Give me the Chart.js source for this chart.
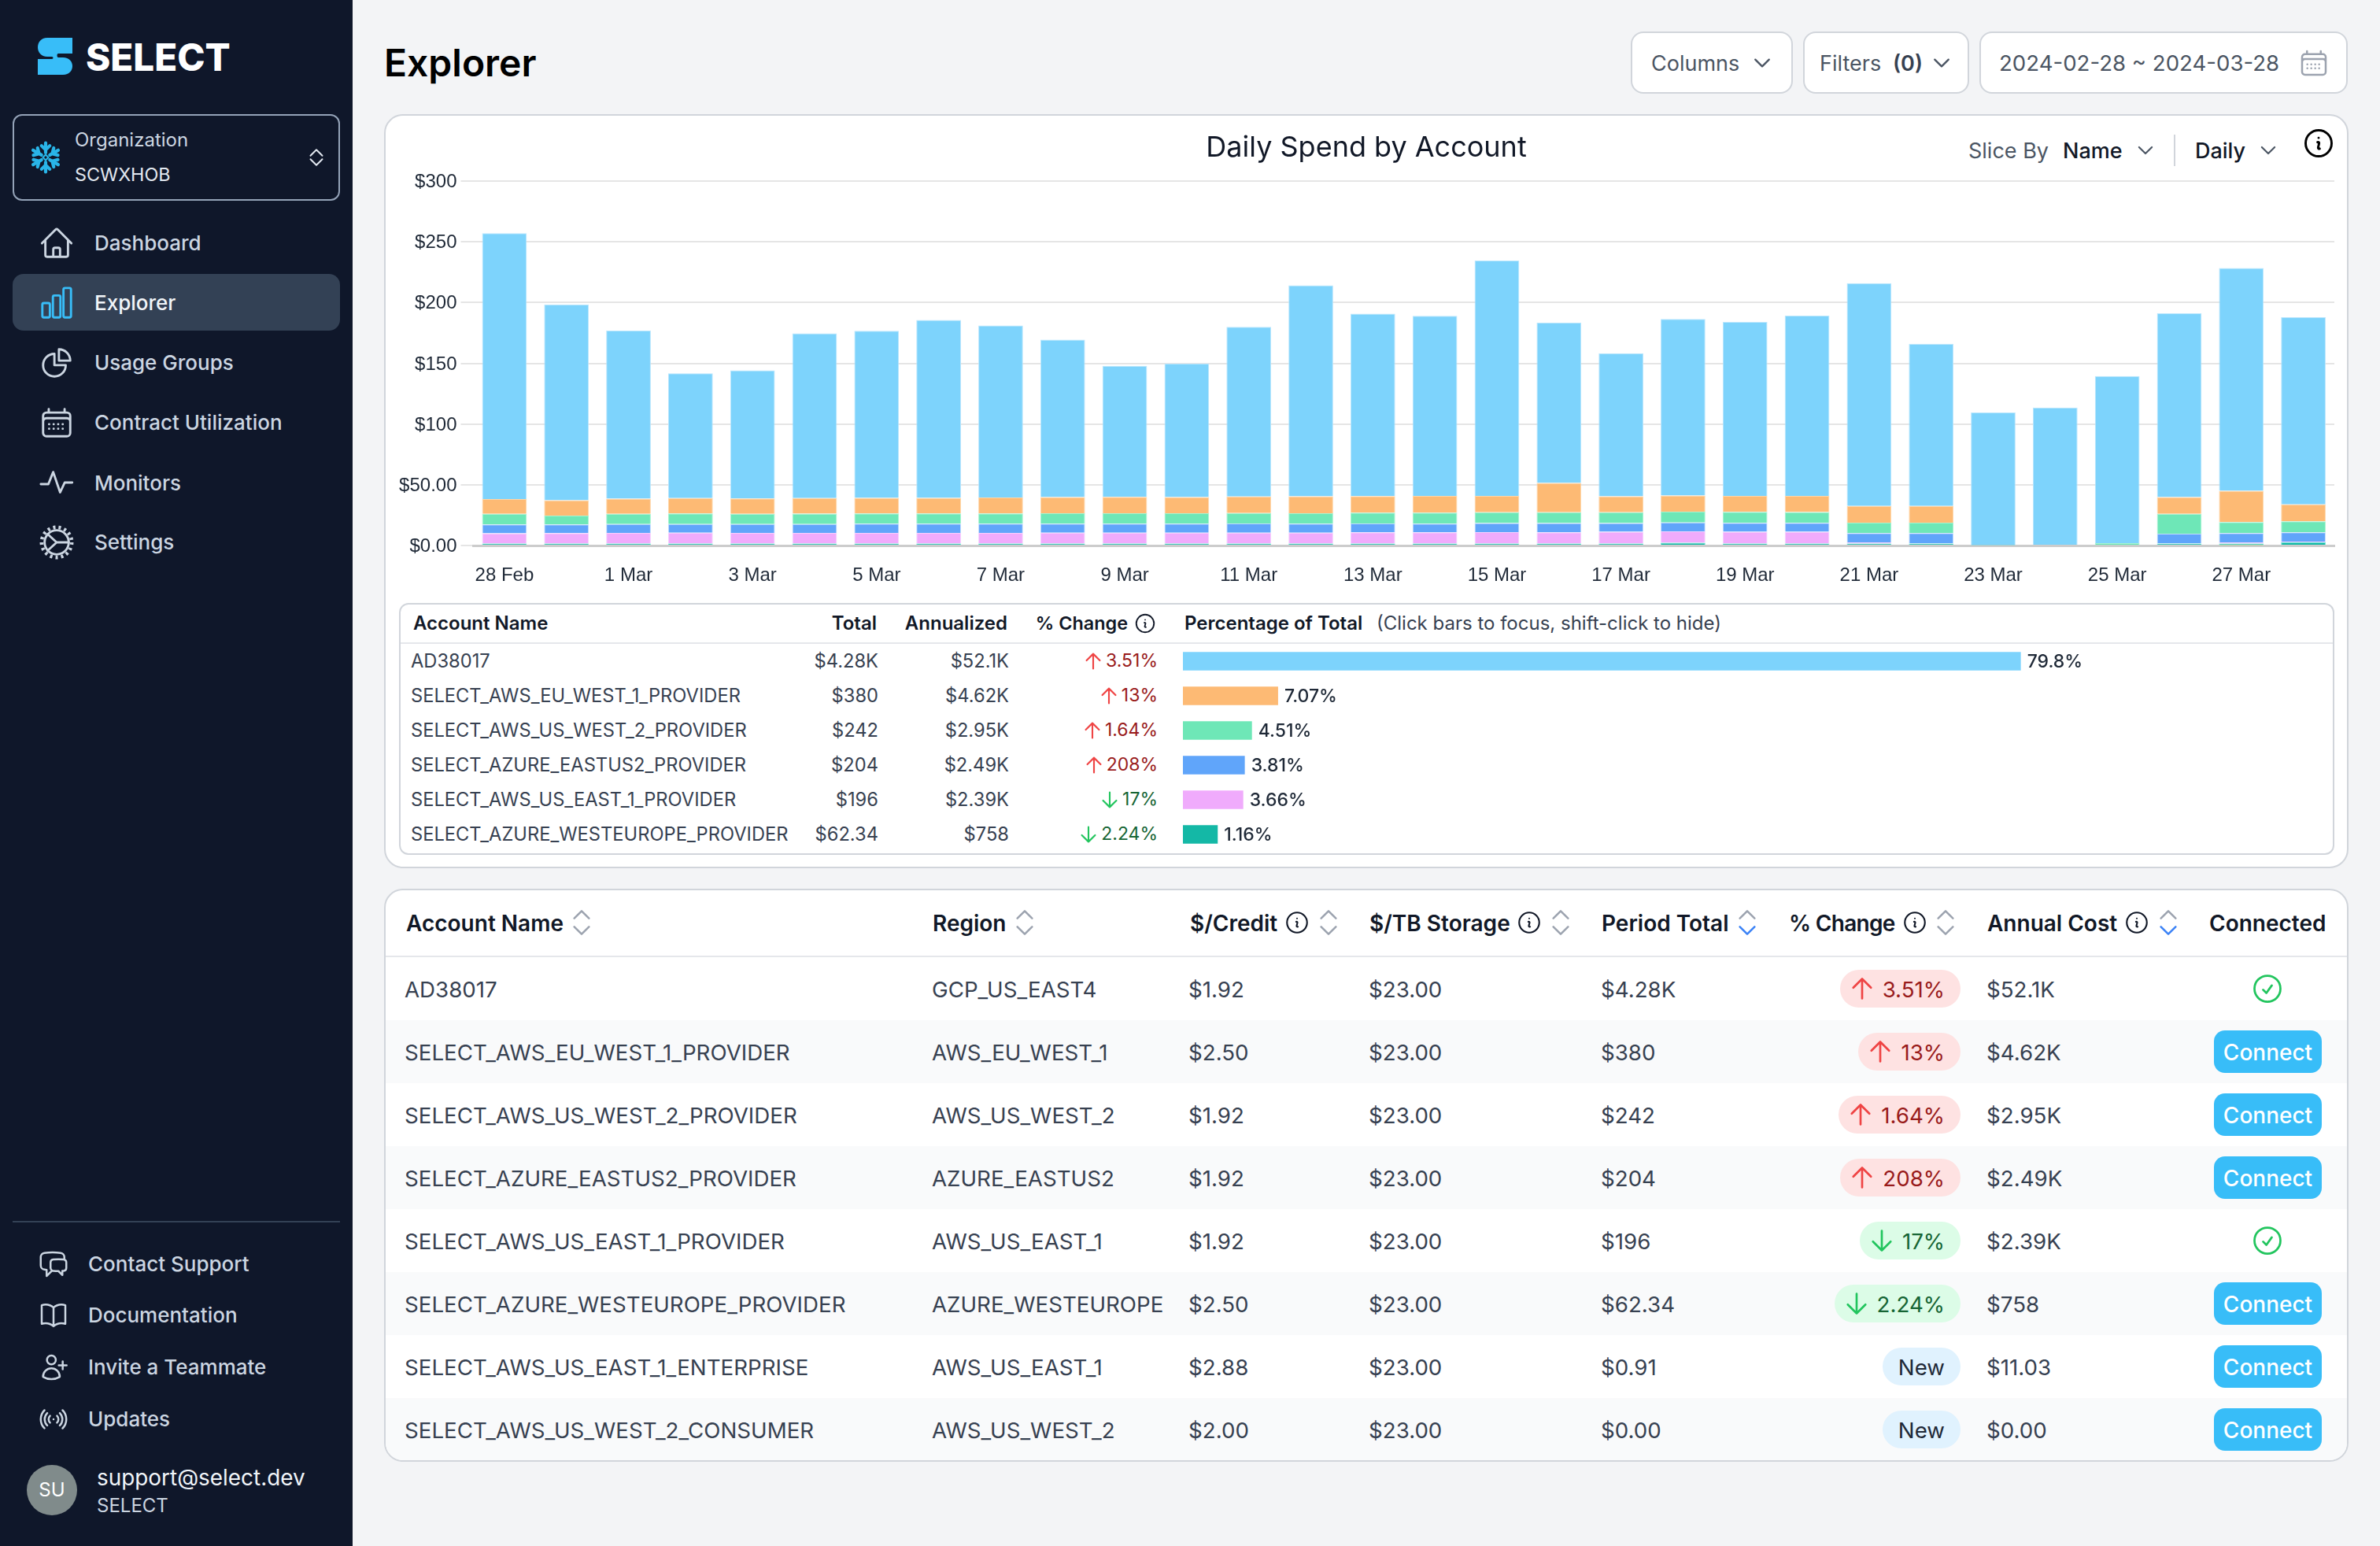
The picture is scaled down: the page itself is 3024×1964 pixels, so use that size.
<!DOCTYPE html>
<html><head><meta charset="utf-8"><title>Explorer</title>
<script src="https://cdn.jsdelivr.net/npm/chart.js@4"></script>
<style>
html,body{margin:0;padding:0;background:#F3F4F6;width:3024px;height:1964px;overflow:hidden;font-family:Inter,sans-serif}
#app{position:relative;width:3024px;height:1964px;overflow:hidden}
.t{position:absolute;white-space:nowrap;line-height:1.2;transform:translateY(-50%)}
.box{position:absolute;box-sizing:border-box}
svg.i{position:absolute;overflow:visible;fill:none;stroke-linecap:round;stroke-linejoin:round}
canvas{position:absolute}
</style></head><body><div id="app"></div>
<canvas id="spend" width="2490" height="610" style="left:490px;top:150px;width:2490px;height:610px;z-index:3"></canvas>
<canvas id="share" width="1463" height="264" style="left:1503px;top:818px;width:1463px;height:264px;z-index:3"></canvas>
<script>
const categories=['28 Feb','29 Feb','1 Mar','2 Mar','3 Mar','4 Mar','5 Mar','6 Mar','7 Mar','8 Mar','9 Mar','10 Mar','11 Mar','12 Mar','13 Mar','14 Mar','15 Mar','16 Mar','17 Mar','18 Mar','19 Mar','20 Mar','21 Mar','22 Mar','23 Mar','24 Mar','25 Mar','26 Mar','27 Mar','28 Mar'];
const yTickLabels=['$0.00','$50.00','$100','$150','$200','$250','$300'];
const otherSpend=[0,0,0,0,0,0,0,0,0,0,0,0,0,0,0,0,0,0,0,0,0,0,0,0,0,0,0,0,0.4,0];
const westeuropeSpend=[1.7,1.7,1.7,1.7,1.7,1.7,1.6,1.6,1.6,1.6,1.6,1.6,1.6,1.6,1.6,1.6,1.7,1.6,1.6,2.2,1.6,1.7,1.7,1.7,0.4,0.6,0.5,1.7,1.3,2.6];
const useast1Spend=[8.3,8.5,8.7,8.9,8.7,8.7,8.8,8.8,8.8,9,9,9,9,9,9.2,9.2,9.3,9.2,9.7,9.5,9.7,9.6,0.9,0.1,0,0,0,0.1,0.9,0.6];
const eastus2Spend=[7.3,7.1,7.3,7.1,7.3,7.3,7.6,7.6,7.6,7.4,7.4,7.4,7.6,7.4,7.4,7.2,7.4,7.6,7.1,7.3,7.3,7.3,7.6,8.4,0,0,0,7.9,7.6,7.6];
const uswest2Spend=[8.7,7.4,8.3,8.7,8.3,8.5,8.4,8.4,8.4,8.6,8.6,8.6,8.6,8.6,8.8,9,8.9,8.9,8.9,8.9,9.1,8.9,8.6,8.6,0,0,1.5,16.3,9.1,9.1];
const euwest1Spend=[12.3,12.5,12.5,12.6,12.7,12.8,12.8,12.8,13.2,13.2,13.4,13.2,13.5,13.9,13.7,13.9,13.6,24.2,13.2,13.2,13.2,13.4,13.7,13.7,0,0,0,13.8,25.7,13.9];
const ad38017Spend=[218.8,161.3,138.4,102.7,105.5,135.7,137.5,146.4,141.5,129.7,107.9,109.8,139.6,173.6,150.1,148.2,193.6,132.1,117.8,145.3,143.1,148.3,183.5,133.5,109.1,113,137.4,151.3,183.4,154.1];
const summaryNames=['AD38017','SELECT_AWS_EU_WEST_1_PROVIDER','SELECT_AWS_US_WEST_2_PROVIDER','SELECT_AZURE_EASTUS2_PROVIDER','SELECT_AWS_US_EAST_1_PROVIDER','SELECT_AZURE_WESTEUROPE_PROVIDER'];
const summaryTotals=['$4.28K','$380','$242','$204','$196','$62.34'];
const summaryAnnual=['$52.1K','$4.62K','$2.95K','$2.49K','$2.39K','$758'];
const summaryChange=['3.51%','13%','1.64%','208%','17%','2.24%'];
const summaryDir=['up','up','up','up','down','down'];
const summaryShare=[79.8,7.07,4.51,3.81,3.66,1.16];
const summaryShareLabels=['79.8%','7.07%','4.51%','3.81%','3.66%','1.16%'];
const accounts=['AD38017','SELECT_AWS_EU_WEST_1_PROVIDER','SELECT_AWS_US_WEST_2_PROVIDER','SELECT_AZURE_EASTUS2_PROVIDER','SELECT_AWS_US_EAST_1_PROVIDER','SELECT_AZURE_WESTEUROPE_PROVIDER','SELECT_AWS_US_EAST_1_ENTERPRISE','SELECT_AWS_US_WEST_2_CONSUMER'];
const regions=['GCP_US_EAST4','AWS_EU_WEST_1','AWS_US_WEST_2','AZURE_EASTUS2','AWS_US_EAST_1','AZURE_WESTEUROPE','AWS_US_EAST_1','AWS_US_WEST_2'];
const creditRates=['$1.92','$2.50','$1.92','$1.92','$1.92','$2.50','$2.88','$2.00'];
const storageRates=['$23.00','$23.00','$23.00','$23.00','$23.00','$23.00','$23.00','$23.00'];
const periodTotals=['$4.28K','$380','$242','$204','$196','$62.34','$0.91','$0.00'];
const changes=['3.51%','13%','1.64%','208%','17%','2.24%','New','New'];
const changeDirs=['up','up','up','up','down','down','new','new'];
const annualCosts=['$52.1K','$4.62K','$2.95K','$2.49K','$2.39K','$758','$11.03','$0.00'];
const connected=[true,false,false,false,true,false,false,false];

const app=document.getElementById('app');
function T(s,x,y,o={}){const d=document.createElement('div');d.className='t';d.textContent=s;
 d.style.cssText+=`top:${y}px;font-size:${o.s||28}px;font-weight:${o.w||400};color:${o.c||'#374151'};z-index:${o.z||2};`+(o.ls?`letter-spacing:${o.ls}px;`:'')+(o.r?`right:${3024-x}px;`:o.ctr?`left:${x}px;transform:translate(-50%,-50%);`:`left:${x}px;`);
 app.appendChild(d);return d}
function B(x,y,w,h,css){const d=document.createElement('div');d.className='box';d.style.cssText=`left:${x}px;top:${y}px;width:${w}px;height:${h}px;${css}`;app.appendChild(d);return d}
function I(inner,cx,cy,size,color,sw,vb=24){const n='http://www.w3.org/2000/svg';const e=document.createElementNS(n,'svg');e.setAttribute('class','i');e.setAttribute('viewBox',`0 0 ${vb} ${vb}`);
 e.style.cssText=`left:${cx-size/2}px;top:${cy-size/2}px;width:${size}px;height:${size}px;stroke:${color};stroke-width:${sw};z-index:4`;e.innerHTML=inner;app.appendChild(e);return e}
const P=d=>`<path d="${d}"/>`;
const icons={
home:P('M2.25 12l8.954-8.955c.44-.439 1.152-.439 1.591 0L21.75 12M4.5 9.75v10.125c0 .621.504 1.125 1.125 1.125H9.75v-4.875c0-.621.504-1.125 1.125-1.125h2.25c.621 0 1.125.504 1.125 1.125V21h4.125c.621 0 1.125-.504 1.125-1.125V9.75M8.25 21h8.25'),
bars:'<rect x="2.5" y="12" width="5" height="9.5" rx="1"/><rect x="9.5" y="7" width="5" height="14.5" rx="1"/><rect x="16.5" y="2" width="5" height="19.5" rx="1"/>',
pie:P('M10.5 6a7.5 7.5 0 107.5 7.5h-7.5V6z')+P('M13.5 10.5H21A7.5 7.5 0 0013.5 3v7.5z'),
cal:P('M6.75 3v2.25M17.25 3v2.25M3 18.75V7.5a2.25 2.25 0 012.25-2.25h13.5A2.25 2.25 0 0121 7.5v11.25m-18 0A2.25 2.25 0 005.25 21h13.5A2.25 2.25 0 0021 18.75m-18 0v-7.5A2.25 2.25 0 015.25 9h13.5A2.25 2.25 0 0121 11.25v7.5')+P('M7 13h.01M10 13h.01M13 13h.01M16 13h.01M7 16h.01M10 16h.01M13 16h.01M16 16h.01'),
pulse:P('M1.5 12.5h5l3.2-8 4.6 13.5 3-6.5h5'),
cog:'<circle cx="12" cy="12" r="8"/><circle cx="12" cy="12" r="10" stroke-width="2.4" stroke-dasharray="1.6 2.1" stroke-linecap="butt"/>'+P('M6 6.5l6 5.5-6 5.5M12 12h8'),
chat:P('M20.25 8.511c.884.284 1.5 1.128 1.5 2.097v4.286c0 1.136-.847 2.1-1.98 2.193-.34.027-.68.052-1.02.072v3.091l-3-3c-1.354 0-2.694-.055-4.02-.163a2.115 2.115 0 01-.825-.242m9.345-8.334a2.126 2.126 0 00-.476-.095 48.64 48.64 0 00-8.048 0c-1.131.094-1.976 1.057-1.976 2.192v4.286c0 .837.46 1.58 1.155 1.951m9.345-8.334V6.637c0-1.621-1.152-3.026-2.76-3.235A48.455 48.455 0 0011.25 3c-2.115 0-4.198.137-6.24.402-1.608.209-2.76 1.614-2.76 3.235v6.226c0 1.621 1.152 3.026 2.76 3.235.577.075 1.157.14 1.74.194V21l4.155-4.155'),
book:P('M12 6.042A8.967 8.967 0 006 3.75c-1.052 0-2.062.18-3 .512v14.25A8.987 8.987 0 016 18c2.305 0 4.408.867 6 2.292m0-14.25a8.966 8.966 0 016-2.292c1.052 0 2.062.18 3 .512v14.25A8.987 8.987 0 0018 18a8.967 8.967 0 00-6 2.292m0-14.25v14.25'),
user:P('M19 7.5v3m0 0v3m0-3h3m-3 0h-3m-2.25-4.125a3.375 3.375 0 11-6.75 0 3.375 3.375 0 016.75 0zM4 19.235v-.11a6.375 6.375 0 0112.75 0v.109A12.318 12.318 0 0110.374 21c-2.331 0-4.512-.645-6.374-1.766z'),
signal:P('M9.348 14.651a3.75 3.75 0 010-5.303m5.304 0a3.75 3.75 0 010 5.303m-7.425 2.122a6.75 6.75 0 010-9.546m9.546 0a6.75 6.75 0 010 9.546M5.106 18.894c-3.808-3.808-3.808-9.98 0-13.789m13.788 0c3.808 3.808 3.808 9.981 0 13.79M12 12h.008v.007H12V12z'),
info:P('M11.25 11.25l.041-.02a.75.75 0 011.063.852l-.708 2.836a.75.75 0 001.063.853l.041-.021M21 12a9 9 0 11-18 0 9 9 0 0118 0zm-9-3.75h.008v.008H12V8.25z'),
check:P('M9 12.75L11.25 15 15 9.75M21 12a9 9 0 11-18 0 9 9 0 0118 0z'),
up:P('M12 19.5v-15m0 0l-6.75 6.75M12 4.5l6.75 6.75'),
down:P('M12 4.5v15m0 0l6.75-6.75M12 19.5l-6.75-6.75'),
chev:P('M19.5 8.25l-7.5 7.5-7.5-7.5'),
chevUp:P('M4.5 15.75l7.5-7.5 7.5 7.5')
};
/* sidebar */
B(0,0,448,1964,'background:#0F172A;z-index:1');
I('<path d="M60 48H92V68H74C72 68 72 73 74 73H80C96 73 96 95 80 95H48V75H66C68 75 68 72 66 72H60C44 72 44 48 60 48Z" fill="#38BDF8" stroke="none"/>',224,224,448,'none',0,448);
T('SELECT',109,72,{s:47.5,w:800,c:'#fff'});
B(16,145,416,110,'border:2.5px solid #94A3B8;border-radius:12px;z-index:2');
let flake='';for(let a=0;a<360;a+=60)flake+=`<g transform="rotate(${a} 12 12)"><path d="M12 8.5V1.5M9 3.5L12 6.5L15 3.5"/></g>`;
I(flake+'<path d="M12 10l2 2-2 2-2-2z" stroke-width="1.2"/>',58,200,42,'#29B5E8',2.4);
T('Organization',95,178,{s:24,c:'#CBD5E1'});
T('SCWXHOB',95,222,{s:23.4,c:'#E2E8F0'});
I(icons.chevUp,402,194,24,'#E2E8F0',2);I(icons.chev,402,206,24,'#E2E8F0',2);
B(16,348,416,72,'background:#334155;border-radius:14px;z-index:2');
[['Dashboard','home',309],['Explorer','bars',385],['Usage Groups','pie',461],['Contract Utilization','cal',537],['Monitors','pulse',614],['Settings','cog',689]].forEach(([s,ic,y])=>{
 const on=s==='Explorer';T(s,120,y,{s:26,w:500,c:on?'#F1F5F9':'#CBD5E1'});I(icons[ic],72,y,46,on?'#38BDF8':'#CBD5E1',1.5);});
B(16,1551,416,2,'background:#334155;z-index:2');
[['Contact Support','chat',1606],['Documentation','book',1671],['Invite a Teammate','user',1737],['Updates','signal',1803]].forEach(([s,ic,y])=>{T(s,112,y,{s:26,w:500,c:'#CBD5E1'});I(icons[ic],68,y,40,'#CBD5E1',1.5);});
B(34,1861,64,64,'background:#808B8B;border-radius:50%;z-index:2');
T('SU',66,1893,{s:24,w:400,c:'#fff',ctr:1,z:3});
T('support@select.dev',123,1878,{s:27.9,c:'#F1F5F9'});
T('SELECT',123,1913,{s:24,c:'#CBD5E1'});
/* top bar */
T('Explorer',488,80,{s:48,w:600,c:'#000'});
const btn='background:#fff;border:2px solid #D1D5DB;border-radius:16px;z-index:1';
B(2072,40,206,79,btn);B(2291,40,211,79,btn);B(2515,40,468,79,btn);
T('Columns',2098,81,{s:27,c:'#4B5563'});I(icons.chev,2239,80,28,'#4B5563',2);
T('Filters ',2312,81,{s:27,c:'#4B5563'});T('(0)',2405,81,{s:27,w:600,c:'#374151'});I(icons.chev,2467,80,28,'#4B5563',2);
T('2024-02-28 ~ 2024-03-28',2540,81,{s:27.6,c:'#4B5563'});I(icons.cal,2940,80,40,'#9CA3AF',1.5);
/* chart card */
B(488,145,2496,958,'background:#fff;border:2px solid #D1D5DB;border-radius:24px;z-index:1');
T('Slice By',2501,192,{s:27,c:'#4B5563'});T('Name',2621,192,{s:27,w:500,c:'#111827'});I(icons.chev,2726,191,26,'#4B5563',2);
B(2762,171,2,40,'background:#D1D5DB;z-index:2');
T('Daily',2789,192,{s:27,w:500,c:'#111827'});I(icons.chev,2882,191,26,'#4B5563',2);I(icons.info,2946,182,44,'#000',1.6);
/* summary table */
B(507,766,2459,320,'border:2px solid #D1D5DB;border-radius:12px;background:#fff;z-index:1');
B(509,816,2455,2,'background:#E5E7EB;z-index:2');
T('Account Name',525,792,{s:24,w:600,c:'#111827'});T('Total',1114,792,{s:24,w:600,c:'#111827',r:1});T('Annualized',1280,792,{s:24,w:600,c:'#111827',r:1});
T('% Change',1433,792,{s:23.4,w:600,c:'#111827',r:1});I(icons.info,1455,792,30,'#111827',1.5);
T('Percentage of Total',1505,792,{s:24,w:600,c:'#111827'});T('(Click bars to focus, shift-click to hide)',1749,792,{s:24,c:'#374151'});
summaryNames.forEach((n,i)=>{const y=840+i*44;
 T(n,522,y,{s:23.7});T(summaryTotals[i],1116,y,{s:23.7,r:1});T(summaryAnnual[i],1282,y,{s:23.7,r:1});
 const up=summaryDir[i]==='up';const e=T(summaryChange[i],1471,y,{s:23,r:1,c:up?'#991B1B':'#166534'});
 I(icons[up?'up':'down'],1471-e.getBoundingClientRect().width-16,y,30,up?'#EF4444':'#22C55E',1.7);});
/* main table */
B(488,1129,2496,728,'background:#fff;border:2px solid #D1D5DB;border-radius:24px;z-index:1');
B(490,1214,2492,2,'background:#E5E7EB;z-index:2');
const sort=(x,blue)=>{I(icons.chevUp,x,1162,30,'#9CA3AF',2);I(icons.chev,x,1182,30,blue?'#3B82F6':'#9CA3AF',2)};
[['Account Name',516,739],['Region',1185,1302],['$/Credit',1512,1688,1648],['$/TB Storage',1740,1983,1943],['Period Total',2035,2220,0,1],['% Change',2273,2472,2433],['Annual Cost',2525,2755,2715,1],['Connected',2807]].forEach(([s,x,so,inf,blue])=>{
 T(s,x,1173.5,{s:28,w:600,c:'#111827',ls:s==='% Change'?-0.7:0});if(so)sort(so,blue);if(inf)I(icons.info,inf,1172,34,'#111827',1.5);});
accounts.forEach((a,i)=>{const y=1256+i*80,ty=y+1.5;
 if(i%2){const last=i===accounts.length-1;B(490,y-40,2492,last?79:80,'background:#F9FAFB;z-index:1;'+(last?'border-radius:0 0 22px 22px;':''));}
 const o={s:27.7};
 T(a,514,ty,o);T(regions[i],1184,ty,o);T(creditRates[i],1510,ty,o);T(storageRates[i],1739,ty,o);T(periodTotals[i],2034,ty,o);T(annualCosts[i],2524,ty,o);
 const d=changeDirs[i];const st={up:['#FEE2E2','#991B1B','#EF4444'],down:['#DCFCE7','#166534','#22C55E'],new:['#E0F2FE','#1F2937','']}[d];
 const e=T(changes[i],2471,ty,{s:27.7,r:1,c:st[1],z:3});const w=e.getBoundingClientRect().width;
 const left=d==='new'?2471-w-20:2471-w-54;
 B(left,y-24,2491-left,48,`background:${st[0]};border-radius:24px;z-index:2`);
 if(d!=='new')I(icons[d==='up'?'up':'down'],left+28,y,40,st[2],1.6);
 if(connected[i])I(icons.check,2881,y,44,'#22C55E',1.5);
 else{B(2813,y-27,137,54,'background:#38BDF8;border-radius:14px;z-index:2');T('Connect',2881.5,ty,{s:28,w:500,c:'#fff',ctr:1,z:3});}
});
/* spend chart */
const mk=(label,data,bg,bd)=>({label,data,backgroundColor:bg,borderColor:bd,borderWidth:1,stack:'s'});
new Chart(document.getElementById('spend'),{type:'bar',
 data:{labels:categories,datasets:[
  mk('Other',otherSpend,'#FACC15','#FEF08A'),
  mk(summaryNames[5],westeuropeSpend,'#14B8A6','#5EEAD4'),
  mk(summaryNames[4],useast1Spend,'#F0ABFC','#F5D0FE'),
  mk(summaryNames[3],eastus2Spend,'#60A5FA','#BFDBFE'),
  mk(summaryNames[2],uswest2Spend,'#6EE7B7','#A7F3D0'),
  mk(summaryNames[1],euwest1Spend,'#FDBA74','#FED7AA'),
  mk(summaryNames[0],ad38017Spend,'#7DD3FC','#BAE6FD')]},
 options:{responsive:false,animation:false,devicePixelRatio:1,
  layout:{padding:{left:16,right:14,top:0,bottom:0}},
  datasets:{bar:{barPercentage:0.72,categoryPercentage:1}},
  plugins:{legend:{display:false},tooltip:{enabled:false},
   title:{display:true,text:'Daily Spend by Account',color:'#111827',font:{family:'Inter',size:36,weight:'400',lineHeight:1.2},padding:{top:16.4,bottom:20.4}}},
  scales:{
   x:{stacked:true,afterFit(s){s.height=67},grid:{display:false},border:{display:true,color:'#CCCCCC',width:3},
    ticks:{padding:16,autoSkip:false,maxRotation:0,color:'#1F2937',font:{family:'"Liberation Sans"',size:24},callback(v,i){return i%2?'':categories[i]}}},
   y:{stacked:true,min:0,max:300,afterFit(s){s.width=95.5},border:{display:false},
    grid:{color:'#E5E5E5',lineWidth:2,tickLength:16},
    ticks:{stepSize:50,padding:5,labelOffset:1.5,color:'#1F2937',font:{family:'"Liberation Sans"',size:24},callback(v){return yTickLabels[v/50]}}}
  }}});
/* percentage-of-total bars */
new Chart(document.getElementById('share'),{type:'bar',
 data:{labels:summaryNames,datasets:[{data:summaryShare,base:-2.25,backgroundColor:['#7DD3FC','#FDBA74','#6EE7B7','#60A5FA','#F0ABFC','#14B8A6'],barPercentage:0.53,categoryPercentage:1}]},
 options:{indexAxis:'y',responsive:false,animation:false,devicePixelRatio:1,layout:{padding:0},
  plugins:{legend:{display:false},tooltip:{enabled:false}},
  scales:{x:{display:false,min:-2.25,max:110.5},y:{display:false}}},
 plugins:[{id:'shareLabels',afterDatasetsDraw(c){const x=c.ctx;x.save();x.font='500 23px Inter';x.fillStyle='#1F2937';x.textBaseline='middle';
  c.getDatasetMeta(0).data.forEach((b,i)=>x.fillText(summaryShareLabels[i],b.x+8,b.y+1));x.restore();}}]});
</script></body></html>
